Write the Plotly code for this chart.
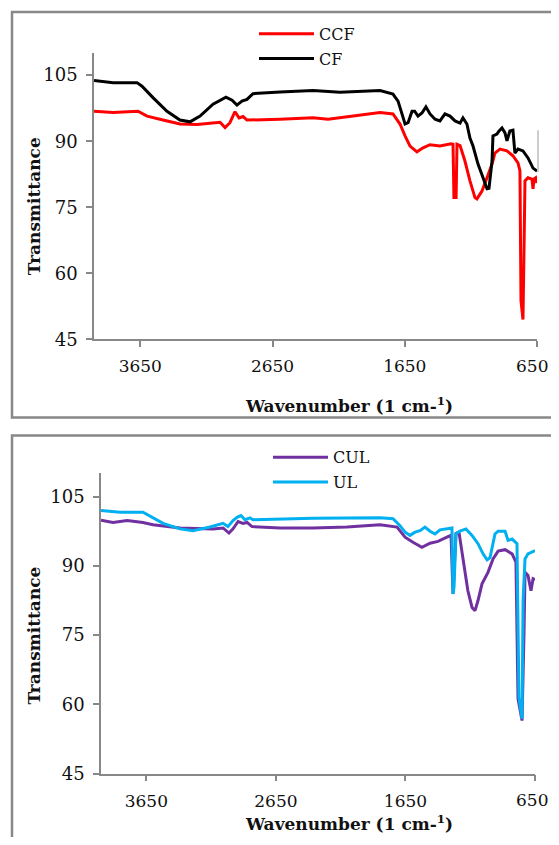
import plotly.graph_objects as go

# ---------------- data ----------------
ccf_wn = [4000, 3856, 3667, 3599, 3478, 3350, 3221, 3100, 3047, 3009, 2972, 2934, 2903, 2873, 2843,
          2593, 2344, 2230, 2087, 1837, 1739, 1686, 1648, 1610, 1558, 1512, 1459, 1384, 1300, 1285,
          1278, 1270, 1262, 1255, 1232, 1195, 1157, 1119, 1104, 1066, 1028, 990, 968, 930, 877, 832,
          794, 779, 771, 756, 748, 741, 718, 688, 680, 673, 660, 650]
ccf_t = [96.8, 96.5, 96.8, 95.7, 94.8, 93.9, 93.8, 94.2, 94.3, 93.1, 94.2, 96.7, 95.3, 95.6, 94.8,
         95.0, 95.3, 95.0, 95.6, 96.5, 96.2, 93.9, 91.2, 88.9, 87.6, 88.5, 89.2, 88.9, 89.4, 89.3,
         76.9, 78.7, 76.9, 89.3, 89.0, 85.5, 81.0, 77.2, 76.9, 78.7, 81.7, 84.8, 87.3, 88.2, 87.8, 86.7,
         85.1, 83.3, 53.8, 49.5, 65.8, 81.0, 81.7, 81.4, 79.2, 81.4, 81.7, 80.5]

cf_wn = [4000, 3856, 3675, 3637, 3554, 3448, 3350, 3274, 3198, 3100, 3002, 2956, 2919, 2881, 2843,
         2798, 2593, 2344, 2140, 1837, 1739, 1701, 1671, 1648, 1625, 1595, 1575, 1550, 1520, 1490,
         1459, 1421, 1384, 1346, 1308, 1270, 1232, 1210, 1180, 1157, 1134, 1096, 1058, 1028, 1013,
         990, 983, 953, 938, 915, 892, 877, 855, 832, 817, 794, 756, 718, 680, 650]
cf_t = [103.8, 103.3, 103.3, 102.5, 99.9, 96.8, 94.8, 94.4, 95.7, 98.4, 100.0, 99.3, 98.2, 99.1, 99.5,
        100.8, 101.2, 101.5, 101.1, 101.5, 100.7, 99.1, 96.2, 93.9, 94.2, 96.8, 96.8, 95.7, 96.4, 97.8,
        96.2, 95.0, 94.6, 96.2, 95.7, 94.6, 94.1, 95.3, 93.9, 90.7, 88.9, 84.8, 81.7, 79.2, 79.3,
        85.5, 91.2, 91.6, 92.3, 93.0, 91.9, 90.1, 92.3, 92.5, 87.3, 88.2, 87.8, 86.2, 83.9, 83.2]

cul_wn = [4000, 3907, 3799, 3676, 3599, 3491, 3390, 3135, 3058, 3012, 2981, 2942, 2904, 2873, 2834,
          2618, 2363, 2101, 1846, 1715, 1653, 1592, 1523, 1460, 1399, 1330, 1298, 1283, 1260, 1237,
          1206, 1168, 1136, 1113, 1090, 1059, 1013, 974, 935, 881, 827, 797, 781, 750, 735, 727,
          704, 681, 665, 650]
cul_t = [99.9, 99.4, 99.8, 99.4, 98.9, 98.5, 98.2, 98.0, 98.2, 97.1, 98.0, 99.6, 99.2, 99.4, 98.5,
         98.2, 98.2, 98.4, 98.9, 98.4, 96.2, 95.1, 94.0, 94.9, 95.3, 96.2, 96.6, 83.9, 97.0, 97.3,
         91.9, 84.6, 81.0, 80.3, 82.5, 86.1, 88.6, 91.5, 93.2, 93.5, 92.6, 90.8, 61.2, 56.5, 75.3, 88.6,
         87.9, 84.6, 87.2, 87.0]

ul_wn = [4000, 3853, 3676, 3622, 3521, 3390, 3290, 3159, 3058, 3020, 2981, 2950, 2919, 2889, 2850,
         2827, 2618, 2363, 1846, 1746, 1692, 1653, 1615, 1576, 1538, 1499, 1460, 1422, 1383, 1306,
         1291, 1283, 1275, 1260, 1229, 1183, 1136, 1090, 1051, 1020, 997, 959, 935, 881, 858, 827,
         789, 774, 750, 742, 727, 704, 650]
ul_t = [102.0, 101.6, 101.6, 100.7, 99.2, 98.0, 97.6, 98.4, 99.2, 98.5, 99.8, 100.5, 100.9, 100.0, 100.4,
        100.0, 100.2, 100.3, 100.4, 100.2, 98.7, 97.3, 96.6, 97.3, 97.6, 98.4, 97.5, 96.9, 97.8, 98.2,
        98.2, 83.9, 85.4, 97.0, 97.5, 98.0, 96.6, 94.8, 92.6, 91.3, 91.8, 96.9, 97.5, 97.5, 95.5, 95.8,
        94.8, 61.5, 56.9, 82.5, 91.5, 92.6, 93.3]

x_ticks = [3650, 2650, 1650, 650]
y_ticks = [45, 60, 75, 90, 105]
x_range = [4000, 650]
y_range = [45, 110]

# ---------------- figure ----------------
# the page keeps its default 8px body margin, so the figure is 16px smaller
# than the window; positions below are given in reference pixels.
OFF = 8
W, H = 559 - 2 * OFF, 845 - 2 * OFF
K = 856 / 845.0   # vertical page/picture ratio observed in the rendered picture
FONT = "DejaVu Serif"
GRAY = "#888888"


def px_x(p):
    return (p - OFF) / W


def px_y(p):
    return 1 - (p * K - OFF) / H


fig = go.Figure()
fig.add_trace(go.Scatter(x=ccf_wn, y=ccf_t, name="CCF", mode="lines", legendgroup="a",
                         line=dict(color="#FF0000", width=3), xaxis="x", yaxis="y", legend="legend"))
fig.add_trace(go.Scatter(x=cf_wn, y=cf_t, name="CF", mode="lines", legendgroup="b",
                         line=dict(color="#000000", width=3), xaxis="x", yaxis="y", legend="legend"))
fig.add_trace(go.Scatter(x=cul_wn, y=cul_t, name="CUL", mode="lines", legendgroup="c",
                         line=dict(color="#7030A0", width=3), xaxis="x2", yaxis="y2", legend="legend2"))
fig.add_trace(go.Scatter(x=ul_wn, y=ul_t, name="UL", mode="lines", legendgroup="d",
                         line=dict(color="#00B0F0", width=3), xaxis="x2", yaxis="y2", legend="legend2"))

axis_common = dict(showline=True, linecolor=GRAY, linewidth=1.5, ticks="outside", ticklen=6,
                   tickcolor=GRAY, tickwidth=1.5, showgrid=False, zeroline=False)
yfont = dict(family=FONT, size=18, color="#111111")
xfont = dict(family=FONT, size=17, color="#111111")
# the last x label sits at the very edge of the window; it is written as an
# annotation at x=650 so that plotly does not drop it
x_text = [str(v) for v in x_ticks[:-1]] + [""]

fig.update_layout(
    width=W, height=H, margin=dict(l=0, r=0, t=0, b=0),
    paper_bgcolor="white", plot_bgcolor="white",
    xaxis=dict(domain=[px_x(94), px_x(537)], range=x_range, tickvals=x_ticks, ticktext=x_text,
               anchor="y", ticklabelstandoff=4, tickfont=xfont, **axis_common),
    yaxis=dict(domain=[px_y(339), px_y(53)], range=y_range, tickvals=y_ticks, anchor="x",
               ticklabelstandoff=5, tickfont=yfont, **axis_common),
    xaxis2=dict(domain=[px_x(101), px_x(535)], range=x_range, tickvals=x_ticks, ticktext=x_text,
                anchor="y2", ticklabelstandoff=5, tickfont=xfont, **axis_common),
    yaxis2=dict(domain=[px_y(773), px_y(473)], range=y_range, tickvals=y_ticks, anchor="x2",
                ticklabelstandoff=5, tickfont=yfont, **axis_common),
    legend=dict(x=px_x(254), y=px_y(17 / K), xanchor="left", yanchor="top", bgcolor="rgba(0,0,0,0)",
                font=dict(family=FONT, size=16, color="#111111"), itemwidth=55, tracegroupgap=1),
    legend2=dict(x=px_x(268), y=px_y(445.6 / K), xanchor="left", yanchor="top", bgcolor="rgba(0,0,0,0)",
                 font=dict(family=FONT, size=16, color="#111111"), itemwidth=55, tracegroupgap=1),
    showlegend=True,
)

title_font = dict(family=FONT, size=17, color="#111111", weight="bold")
ann = [
    dict(text="Transmittance", xref="paper", x=px_x(34), y=px_y(206), textangle=-90, font=title_font),
    dict(text="Wavenumber (1 cm-<sup>1</sup>)", xref="paper", x=px_x(349), y=px_y(405), textangle=0,
         font=title_font),
    dict(text="Transmittance", xref="paper", x=px_x(34), y=px_y(635), textangle=-90, font=title_font),
    dict(text="Wavenumber (1 cm-<sup>1</sup>)", xref="paper", x=px_x(349), y=px_y(822), textangle=0,
         font=title_font),
    dict(text=str(x_ticks[-1]), xref="x", x=x_ticks[-1], y=px_y(366), xshift=-5, font=xfont),
    dict(text=str(x_ticks[-1]), xref="x2", x=x_ticks[-1], y=px_y(799), xshift=-3, font=xfont),
]
fig.update_layout(annotations=[dict(yref="paper", showarrow=False, xanchor="center", yanchor="middle", **a)
                               for a in ann])

fig.update_layout(shapes=[
    dict(type="rect", xref="paper", yref="paper", x0=px_x(12), x1=1.05, y0=px_y(417), y1=px_y(12),
         line=dict(color=GRAY, width=2.5)),
    dict(type="rect", xref="paper", yref="paper", x0=px_x(12), x1=1.05, y0=-0.05, y1=px_y(435),
         line=dict(color=GRAY, width=2.5)),
    dict(type="line", xref="paper", yref="paper", x0=px_x(538), x1=px_x(538), y0=px_y(172), y1=px_y(130),
         line=dict(color="#AAAAAA", width=1.2)),
])

fig.write_html("out.html", config={"displayModeBar": False})
